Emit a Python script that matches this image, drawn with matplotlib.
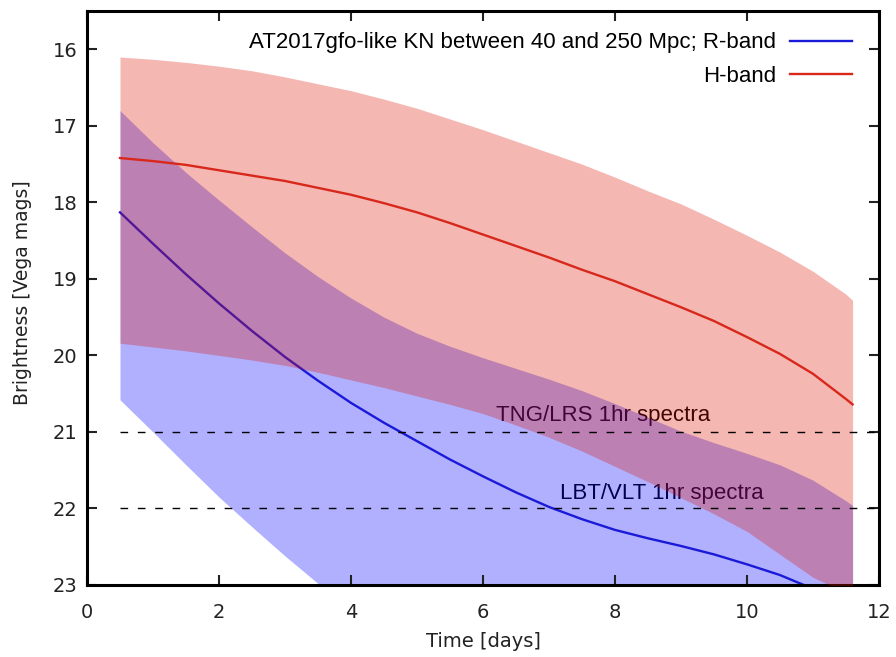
import matplotlib
matplotlib.use("Agg")
import matplotlib.pyplot as plt

# Time grid [days]
days = [0.5, 1.0, 1.5, 2.0, 2.5, 3.0, 3.5, 4.0, 4.5, 5.0, 5.5, 6.0,
        6.5, 7.0, 7.5, 8.0, 8.5, 9.0, 9.5, 10.0, 10.5, 11.0, 11.5, 11.6]

# R-band: median light curve and 40-250 Mpc envelope (Vega mag)
r_mid = [18.13, 18.54, 18.94, 19.32, 19.68, 20.02, 20.33, 20.62, 20.88, 21.12,
         21.36, 21.58, 21.79, 21.98, 22.14, 22.28, 22.39, 22.49, 22.60, 22.73,
         22.87, 23.05, 23.25, 23.30]
r_bright = [16.80, 17.22, 17.61, 17.97, 18.32, 18.66, 18.97, 19.25, 19.50, 19.71,
            19.88, 20.03, 20.17, 20.31, 20.46, 20.63, 20.81, 20.99, 21.14, 21.28,
            21.43, 21.63, 21.90, 21.96]
r_faint = [20.58, 21.00, 21.43, 21.85, 22.24, 22.62, 22.98, 23.3, 23.3, 23.3,
           23.3, 23.3, 23.3, 23.3, 23.3, 23.3, 23.3, 23.3, 23.3, 23.3,
           23.3, 23.3, 23.3, 23.3]

# H-band: median light curve and envelope (Vega mag)
h_mid = [17.42, 17.46, 17.51, 17.58, 17.65, 17.72, 17.81, 17.90, 18.01, 18.13,
         18.27, 18.42, 18.57, 18.72, 18.88, 19.03, 19.20, 19.37, 19.55, 19.76,
         19.98, 20.24, 20.57, 20.64]
h_bright = [16.10, 16.13, 16.17, 16.22, 16.28, 16.36, 16.45, 16.54, 16.65, 16.77,
            16.91, 17.05, 17.20, 17.35, 17.50, 17.67, 17.85, 18.02, 18.22, 18.43,
            18.65, 18.90, 19.20, 19.28]
h_faint = [19.84, 19.89, 19.94, 20.00, 20.06, 20.13, 20.22, 20.32, 20.42, 20.53,
           20.64, 20.76, 20.91, 21.07, 21.25, 21.45, 21.65, 21.86, 22.07, 22.30,
           22.60, 22.90, 23.10, 23.15]

# Spectroscopic limits (1 hr exposures)
limit_mags = [21.0, 22.0]
limit_names = ["TNG/LRS 1hr spectra", "LBT/VLT 1hr spectra"]
limit_label_pos = [(7.82, 20.79), (8.71, 21.81)]

text_font = ["Liberation Sans", "DejaVu Sans"]

fig = plt.figure(figsize=(8.96, 6.57), dpi=100)
ax = fig.add_axes([0.0971, 0.1096, 0.8839, 0.8735])

# labels sit beneath the translucent bands
for (tx, ty), name in zip(limit_label_pos, limit_names):
    ax.text(tx, ty, name, ha="center", va="center", fontsize=16,
            family=text_font, color="black", zorder=0.5)

ax.fill_between(days, r_bright, r_faint, color=(0.0, 0.0, 1.0), alpha=0.31,
                linewidth=0, zorder=1)
ax.plot(days, r_mid, color="#1a1ad8", lw=1.7, zorder=2,
        label="AT2017gfo-like KN between 40 and 250 Mpc; R-band")
ax.fill_between(days, h_bright, h_faint, color="#dd1100", alpha=0.30,
                linewidth=0, zorder=3)
ax.plot(days, h_mid, color="#d8281c", lw=1.7, zorder=4, label="H-band")

for m in limit_mags:
    ax.plot([days[0], 12], [m, m], color="black", lw=1.0,
            dashes=(5.5, 7.0), zorder=5)

ax.set_xlim(0, 12)
ax.set_ylim(23, 15.5)
ax.set_xticks([0, 2, 4, 6, 8, 10, 12])
ax.set_yticks([16, 17, 18, 19, 20, 21, 22, 23])
ax.tick_params(direction="in", length=7, width=1.5, top=True, right=True,
               labelsize=14, colors="#222222", pad=7)
ax.tick_params(axis="x", pad=13)
for s in ax.spines.values():
    s.set_linewidth(2.2)
    s.set_color("black")

ax.set_xlabel("Time [days]", fontsize=14, color="#222222")
ax.set_ylabel("Brightness [Vega mags]", fontsize=13.5, color="#222222")
ax.xaxis.set_label_coords(0.5, -0.082)
ax.yaxis.set_label_coords(-0.069, 0.51)

leg = ax.legend(loc="upper right", bbox_to_anchor=(0.966, 0.963),
                frameon=False, markerfirst=False,
                prop={"family": text_font, "size": 16},
                handlelength=2.8, handletextpad=0.63, borderpad=0.0,
                borderaxespad=0.0, labelspacing=0.55)

fig.savefig("out.png", dpi=100)
